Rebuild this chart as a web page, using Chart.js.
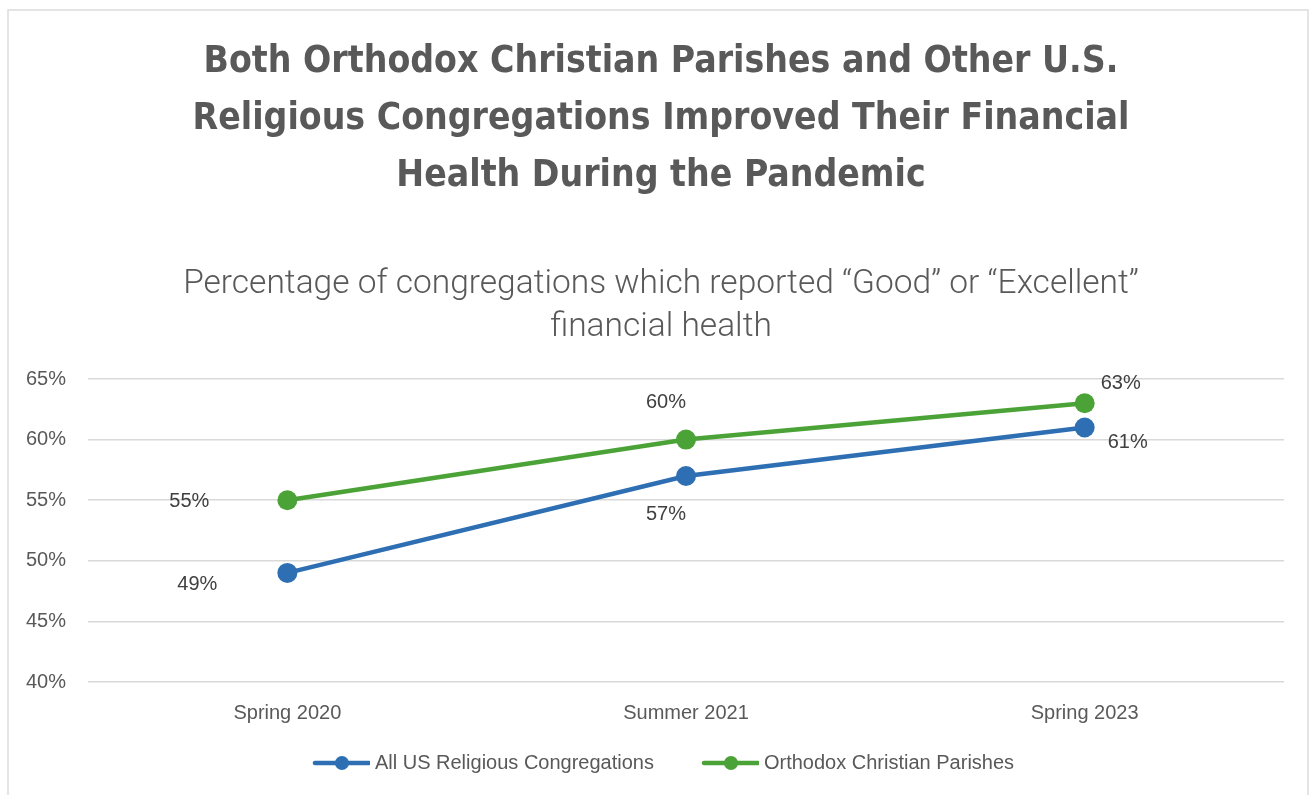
<!DOCTYPE html>
<html>
<head>
<meta charset="utf-8">
<script src="https://cdn.jsdelivr.net/npm/chart.js@4.4.1/dist/chart.umd.min.js"></script>
<style>
  html, body { margin: 0; padding: 0; background: #ffffff; }
  #wrap { position: absolute; left: 0; top: 0; width: 1311px; height: 795px; }
</style>
</head>
<body>
<div id="wrap"><canvas id="c" width="1311" height="795"></canvas></div>
<script>
// ---- data ----
const categories = ['Spring 2020', 'Summer 2021', 'Spring 2023'];
const allUSValues = [49, 57, 61];
const orthodoxValues = [55, 60, 63];
const seriesNames = ['All US Religious Congregations', 'Orthodox Christian Parishes'];
const yTickValues = [40, 45, 50, 55, 60, 65];
const titleLines = ['Both Orthodox Christian Parishes and Other U.S.', 'Religious Congregations Improved Their Financial', 'Health During the Pandemic'];
const subtitleLines = ['Percentage of congregations which reported \u201cGood\u201d or \u201cExcellent\u201d', 'financial health'];

const BLUE = '#2E6FB4';
const GREEN = '#4BA337';
const TEXT = '#595959';

// label offsets (dx, dy) relative to each point, like Excel's manually placed labels
const labelOffsets = [
  [[-90, 12], [-20, 39], [43, 15]],
  [[-98, 1], [-20, -37], [36, -20]]
];

// legend symbol: transparent lead-in (acts as spacing), then line with a dot
function legendSymbol(color) {
  const cv = document.createElement('canvas');
  cv.width = 101; cv.height = 20;
  const g = cv.getContext('2d');
  g.strokeStyle = color; g.lineWidth = 4.5; g.lineCap = 'round';
  g.beginPath(); g.moveTo(46, 10); g.lineTo(100, 10); g.stroke();
  g.fillStyle = color;
  g.beginPath(); g.arc(73, 10, 7, 0, Math.PI * 2); g.fill();
  return cv;
}
const legendSymbols = [legendSymbol(BLUE), legendSymbol(GREEN)];

const frame = {
  id: 'frame',
  beforeDraw(chart) {
    const ctx = chart.ctx;
    ctx.save();
    ctx.fillStyle = '#ffffff';
    ctx.fillRect(0, 0, chart.width, chart.height);
    ctx.strokeStyle = '#dcdcdc';
    ctx.lineWidth = 1.5;
    ctx.strokeRect(8, 10, 1300, 800);
    ctx.restore();
  }
};

// center the title and subtitle on the whole picture rather than on the padded area
const centerHeadings = {
  id: 'centerHeadings',
  afterLayout(chart) {
    chart.boxes.forEach(b => {
      if (b.position === 'top' && !b.isScale) {
        b.left += 17; b.right += 17;
      }
    });
  }
};

const valueLabels = {
  id: 'valueLabels',
  afterDatasetsDraw(chart) {
    const ctx = chart.ctx;
    ctx.save();
    ctx.font = '20px "Liberation Sans", Arial, sans-serif';
    ctx.fillStyle = '#404040';
    ctx.textAlign = 'center';
    ctx.textBaseline = 'middle';
    chart.data.datasets.forEach((ds, di) => {
      const meta = chart.getDatasetMeta(di);
      meta.data.forEach((pt, i) => {
        const off = labelOffsets[di][i];
        ctx.fillText(ds.data[i] + '%', pt.x + off[0], pt.y + off[1]);
      });
    });
    ctx.restore();
  }
};

new Chart(document.getElementById('c'), {
  type: 'line',
  data: {
    labels: categories,
    datasets: [
      {
        label: seriesNames[0], data: allUSValues,
        borderColor: BLUE, backgroundColor: BLUE,
        borderWidth: 4.5, pointRadius: 10, pointHoverRadius: 10,
        pointBackgroundColor: BLUE, pointBorderWidth: 0, tension: 0
      },
      {
        label: seriesNames[1], data: orthodoxValues,
        borderColor: GREEN, backgroundColor: GREEN,
        borderWidth: 4.5, pointRadius: 10, pointHoverRadius: 10,
        pointBackgroundColor: GREEN, pointBorderWidth: 0, tension: 0
      }
    ]
  },
  options: {
    responsive: false,
    animation: false,
    devicePixelRatio: 1,
    layout: { padding: { top: 10, left: 4, right: 27, bottom: 12 } },
    plugins: {
      title: {
        display: true,
        text: titleLines,
        color: TEXT,
        font: { family: '"DejaVu Sans Condensed", sans-serif', size: 37, weight: 'bold', lineHeight: 57 / 37 },
        padding: { top: 24, bottom: 28 }
      },
      subtitle: {
        display: true,
        text: subtitleLines,
        color: TEXT,
        font: { family: 'Roboto, sans-serif', size: 33.5, weight: 300, lineHeight: 43 / 33.5 },
        padding: { top: 30, bottom: 30 }
      },
      legend: {
        display: true,
        position: 'bottom',
        labels: {
          color: TEXT,
          font: { family: '"Liberation Sans", sans-serif', size: 20 },
          usePointStyle: true,
          pointStyleWidth: 91,
          boxHeight: 20,
          padding: 9,
          generateLabels(chart) {
            const items = Chart.defaults.plugins.legend.labels.generateLabels(chart);
            items.forEach((it, i) => { it.pointStyle = legendSymbols[i]; });
            return items;
          }
        }
      },
      tooltip: { enabled: false }
    },
    scales: {
      x: {
        offset: true,
        grid: { display: false, drawTicks: false },
        border: { display: false },
        ticks: { color: TEXT, padding: 19, font: { family: '"Liberation Sans", Arial, sans-serif', size: 20 } }
      },
      y: {
        min: 40, max: 65,
        afterBuildTicks(axis) { axis.ticks = yTickValues.map(v => ({ value: v })); },
        grid: { color: '#d9d9d9', lineWidth: 1.5, drawTicks: false },
        border: { display: false },
        ticks: {
          color: TEXT, padding: 22,
          font: { family: '"Liberation Sans", Arial, sans-serif', size: 20 },
          callback: v => v + '%'
        }
      }
    }
  },
  plugins: [frame, centerHeadings, valueLabels]
});
</script>
</body>
</html>
